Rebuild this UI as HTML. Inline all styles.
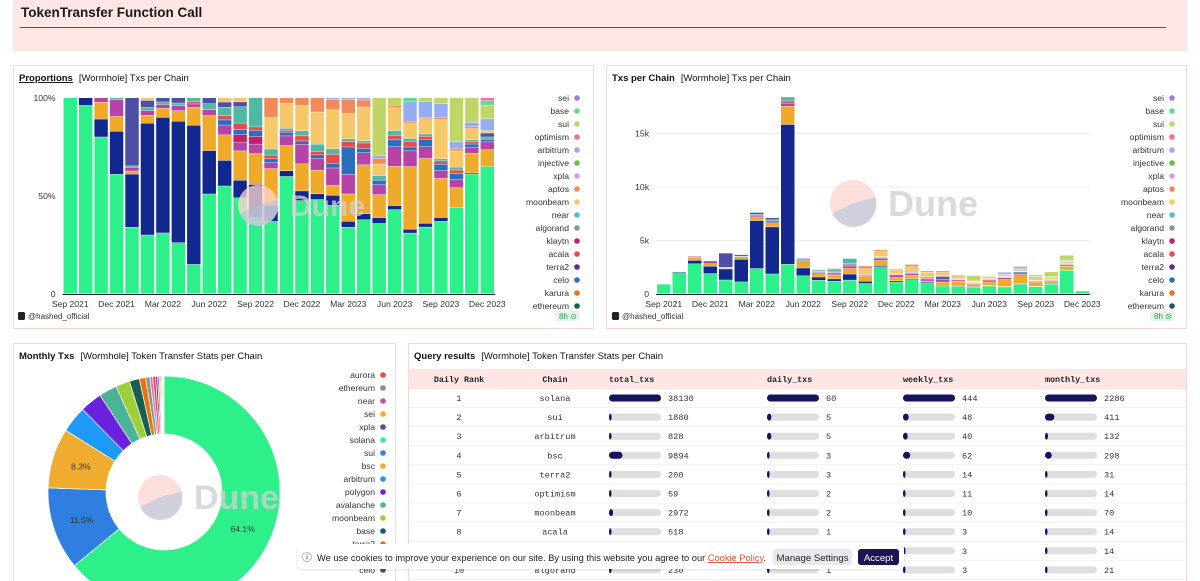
<!DOCTYPE html>
<html><head><meta charset="utf-8">
<style>
html,body{margin:0;padding:0;background:#fff;width:1200px;height:581px;overflow:hidden;font-family:"Liberation Sans",sans-serif}
svg{position:absolute;left:0;top:0}
.mono{font-family:"Liberation Mono",monospace}
</style></head>
<body>
<svg id="page" width="1200" height="581" viewBox="0 0 1200 581">
  <rect x="13" y="0" width="1174" height="51" fill="#fde6e3"/>
  <text x="21" y="17" font-size="13.5" font-weight="bold" fill="#1a1a1a">TokenTransfer Function Call</text>
  <line x1="20" y1="27.5" x2="1166" y2="27.5" stroke="#555" stroke-width="1"/>

  <rect x="13.5" y="65.5" width="580" height="263" fill="#fff" stroke="#f7d9d4"/>
  <rect x="606.5" y="65.5" width="580" height="263" fill="#fff" stroke="#f7d9d4"/>
  <rect x="13.5" y="343.5" width="382" height="240" fill="#fff" stroke="#f7d9d4"/>
  <rect x="408.5" y="343.5" width="778" height="240" fill="#fff" stroke="#f7d9d4"/>

  <text x="19" y="81" font-size="9.5" fill="#111"><tspan font-weight="bold" text-decoration="underline">Proportions</tspan><tspan dx="6">[Wormhole] Txs per Chain</tspan></text>
  <text x="612" y="81" font-size="9.5" fill="#111"><tspan font-weight="bold">Txs per Chain</tspan><tspan dx="6">[Wormhole] Txs per Chain</tspan></text>
  <text x="19" y="359" font-size="9.5" fill="#111"><tspan font-weight="bold">Monthly Txs</tspan><tspan dx="6">[Wormhole] Token Transfer Stats per Chain</tspan></text>
  <text x="414" y="359" font-size="9.5" fill="#111"><tspan font-weight="bold">Query results</tspan><tspan dx="6">[Wormhole] Token Transfer Stats per Chain</tspan></text>

  <g id="g-left"></g>
  <g id="g-right"></g>
  <g id="g-pie"></g>
  <g id="g-table"></g>
  <g id="g-cookie"></g>
</svg>
<script>
const months = ['Sep 2021','Oct 2021','Nov 2021','Dec 2021','Jan 2022','Feb 2022','Mar 2022','Apr 2022','May 2022','Jun 2022','Jul 2022','Aug 2022','Sep 2022','Oct 2022','Nov 2022','Dec 2022','Jan 2023','Feb 2023','Mar 2023','Apr 2023','May 2023','Jun 2023','Jul 2023','Aug 2023','Sep 2023','Oct 2023','Nov 2023','Dec 2023'];
const solana = [900,1980,2800,1890,1290,1110,2360,1850,2760,1680,1265,1175,1280,960,2460,1100,1320,970,730,680,610,730,635,885,665,900,2200,260];
const bsc = [0,80,320,680,1030,2110,4480,4400,13060,730,300,215,560,210,120,115,80,110,65,55,50,35,40,50,35,0,20,0];
const avalanche = [0,0,300,235,60,150,350,380,1700,590,300,360,520,490,530,320,330,110,300,450,200,340,655,860,360,210,360,34];
const polygon = [0,0,80,265,70,90,150,180,300,100,115,100,160,80,200,230,165,190,215,110,85,170,165,155,70,85,110,16];
const klaytn = [0,0,0,0,0,0,0,0,0,0,0,100,130,0,0,0,0,0,0,0,0,0,0,0,0,0,0,0];
const celo = [0,0,0,0,0,0,0,0,0,0,60,60,100,50,80,40,50,50,300,40,40,60,40,100,60,60,60,5];
const acala = [0,0,0,0,0,0,0,0,200,0,50,80,60,50,40,60,50,100,60,50,0,40,60,40,30,40,40,0];
const near = [0,0,0,30,30,60,100,100,380,100,100,200,490,80,40,60,100,60,30,20,40,40,30,30,20,30,40,5];
const xpla = [0,0,0,0,1320,130,160,190,0,100,60,60,0,0,0,0,0,0,0,0,0,0,0,0,0,0,0,8];
const moonbeam = [0,0,0,0,0,50,0,0,0,0,50,50,0,420,520,300,450,430,280,310,100,200,160,200,360,170,200,5];
const aptos = [0,0,0,0,0,0,0,0,0,0,0,0,0,260,120,90,200,110,150,65,50,20,20,20,20,25,40,0];
const arbitrum = [0,0,0,0,0,0,0,0,0,0,0,0,0,0,0,0,0,20,20,20,25,0,205,210,125,70,80,24];
const sui = [0,0,0,0,0,0,0,0,0,0,0,0,0,0,0,0,0,0,0,0,500,65,0,50,55,460,450,28];
const base = [0,0,0,0,0,0,0,0,0,0,0,0,0,0,0,0,0,0,0,0,0,0,40,0,0,0,0,9];
const optimism = [0,0,0,0,0,0,0,0,0,0,0,0,0,0,0,0,0,0,0,0,0,0,0,0,0,0,0,6];
const seriesNames = ['solana','bsc','avalanche','polygon','klaytn','celo','acala','near','xpla','moonbeam','aptos','arbitrum','sui','base','optimism'];
const seriesColors = ['#2ef08a','#13288f','#f0aa2a','#b843a6','#c41f6e','#2b6ebe','#e44d4d','#4fb9a3','#4d4fa6','#f6c86a','#f28a5c','#94aef0','#bfd666','#5fdc93','#f06fa0'];
const seriesValues = [solana,bsc,avalanche,polygon,klaytn,celo,acala,near,xpla,moonbeam,aptos,arbitrum,sui,base,optimism];
const legendLabels = ['sei','base','sui','optimism','arbitrum','injective','xpla','aptos','moonbeam','near','algorand','klaytn','acala','terra2','celo','karura','ethereum'];
const legendColors = ['#9b7ee0','#5fdc93','#bfd666','#f06fa0','#94aef0','#6bbf4a','#d79af0','#f28a5c','#f6c86a','#4fc0c8','#8a9a8a','#c41f6e','#e44d4d','#5a2e8a','#2b6ebe','#e8730f','#1e5e4e'];
const propTicks = [0,0.5,1];
const propTickLabels = ['0','50%','100%'];
const absTicks = [0,5000,10000,15000];
const absTickLabels = ['0','5k','10k','15k'];

const pieLabels = ['solana','sui','bsc','arbitrum','polygon','avalanche','moonbeam','base','terra2','algorand','optimism','acala','celo','near','sei','xpla','ethereum','aurora','karura','injective'];
const pieValues = [2286,411,298,132,110,90,70,50,31,21,14,14,10,8,6,5,5,3,3,2];
const pieColors = ['#2ef08a','#2f7fe0','#f0ac2e','#1e9af5','#6a22e0','#4bb39a','#9ccf3a','#176050','#e8730f','#8a9a8a','#f06fa0','#e44d4d','#5a3c9a','#d04aa0','#f0ac2e','#4d4fa6','#8a8a8a','#e84a3a','#f0a060','#6bbf4a'];
const pieLegend = ['aurora','ethereum','near','sei','xpla','solana','sui','bsc','arbitrum','polygon','avalanche','moonbeam','base','terra2','optimism','celo'];
const pieLegendColors = ['#e84a3a','#8a8a8a','#d04aa0','#f0ac2e','#4d4fa6','#2ef08a','#2f7fe0','#f0ac2e','#1e9af5','#6a22e0','#4bb39a','#9ccf3a','#176050','#e8730f','#f06fa0','#5a3c9a'];

const ranks = [1,2,3,4,5,6,7,8,9,10];
const chains = ['solana','sui','arbitrum','bsc','terra2','optimism','moonbeam','acala','celo','algorand'];
const totalTxs = [38130,1880,828,9894,200,59,2972,518,140,230];
const dailyTxs = [60,5,5,3,3,2,2,1,1,1];
const weeklyTxs = [444,48,40,62,14,11,10,3,3,3];
const monthlyTxs = [2286,411,132,298,31,14,70,14,14,21];

const NS='http://www.w3.org/2000/svg';
function mk(parent,tag,attrs,text){const e=document.createElementNS(NS,tag);for(const k in attrs)e.setAttribute(k,attrs[k]);if(text!==undefined)e.textContent=text;parent.appendChild(e);return e;}

function watermark(g,cx,cy,r,fs){
  const w=mk(g,'g',{opacity:'0.9'});
  
  
  mk(w,'circle',{cx:cx,cy:cy,r:r,fill:'#fcd6cf',opacity:'0.85'});
  mk(w,'path',{d:`M${cx} ${cy} L${cx+r*0.97} ${cy-r*0.25} A${r} ${r} 0 0 1 ${cx-r*0.9} ${cy+r*0.45} Z`,fill:'#c9c9dc',opacity:'0.9'});
  mk(w,'text',{x:cx+r+12,y:cy+fs*0.36,'font-size':fs,'font-weight':'bold',fill:'#cfcfcf',opacity:'0.85'},'Dune');
}

function legend(g,x,y0,step,labels,colors,name){
  labels.forEach((l,i)=>{
    const t=mk(g,'text',{x:x-8,y:y0+i*step+3,'font-size':'8.6','text-anchor':'end',fill:'#333'},l);
    
    
    const c=mk(g,'circle',{cx:x,cy:y0+i*step,r:'2.8',fill:colors[i]});
    
    
  });
}

function footer(g,x,rx){
  const r=mk(g,'rect',{x:x,y:312,width:7,height:8,rx:1.5,fill:'#222'});
  
  
  const t=mk(g,'text',{x:x+10,y:319,'font-size':'8',fill:'#333'},'@hashed_official');
  
  
  const b=mk(g,'rect',{x:rx-10,y:311,width:24,height:10,rx:2,fill:'#e3f6e8'});
  
  
  const bt=mk(g,'text',{x:rx-6,y:319,'font-size':'8',fill:'#2aa34a'},'8h ⊙');
  
  
}

function barChart(gid,x0,x1,yBottom,yTop,mode){
  const g=document.getElementById(gid);
  const n=months.length, slot=(x1-x0)/n, bw=slot*0.87;
  const totals=months.map((m,i)=>seriesValues.reduce((s,a)=>s+a[i],0));
  function yScale(v){ return mode==='prop' ? yBottom - v*(yBottom-yTop) : yBottom - v/5000*53.5; }
  function xScale(i){ return x0 + i*slot + (slot-bw)/2; }
  const ticks = mode==='prop'?propTicks:absTicks, tl = mode==='prop'?propTickLabels:absTickLabels;
  ticks.forEach((t,k)=>{
    const y=yScale(t);
    if(mode!=='prop' && t>0){
      const gl=mk(g,'line',{x1:x0,x2:x1,y1:y,y2:y,stroke:'#eeeeee','stroke-width':1});
      
      
    }
    const lt=mk(g,'text',{x:x0-7,y:y+3,'font-size':'8.6','text-anchor':'end',fill:'#333'},tl[k]);
    
    
  });
  months.forEach((m,i)=>{
    let acc=0;
    seriesValues.forEach((arr,s)=>{
      const v=arr[i]; if(!v) return;
      const val = mode==='prop' ? v/totals[i] : v;
      const yA=yScale(acc), yB=yScale(acc+val);
      acc+=val;
      const r=mk(g,'rect',{x:xScale(i),y:yB,width:bw,height:Math.max(0,yA-yB-0.4),fill:seriesColors[s]});
      
      
    });
  });
  const ax=mk(g,'line',{x1:x0,x2:x1,y1:yBottom+0.5,y2:yBottom+0.5,stroke:'#222','stroke-width':1});
  
  
  months.forEach((m,i)=>{
    if(i%3!==0) return;
    const t=mk(g,'text',{x:xScale(i)+bw/2,y:yBottom+13,'font-size':'8.6','text-anchor':'middle',fill:'#333'},m);
    
    
  });
}

barChart('g-left',62.5,495,294,98,'prop');
watermark(document.getElementById('g-left'),258,205,20,30);
legend(document.getElementById('g-left'),577,98,13,legendLabels,legendColors,'proportions-legend');
footer(document.getElementById('g-left'),18,565);

barChart('g-right',656,1090,294,98,'abs');
watermark(document.getElementById('g-right'),853,203,23,36);
legend(document.getElementById('g-right'),1172,98,13,legendLabels,legendColors,'txs-legend');
footer(document.getElementById('g-right'),612,1160);

(function(){
  const g=document.getElementById('g-pie');
  const cx=164, cy=492, R=116, r0=58;
  const tot=pieValues.reduce((a,b)=>a+b,0);
  let a=0;
  pieValues.forEach((v,i)=>{
    const a1=a, a2=a+v/tot*2*Math.PI; a=a2;
    const p=(ang,rad)=>[cx+rad*Math.sin(ang), cy-rad*Math.cos(ang)];
    const [x1,y1]=p(a1,R),[x2,y2]=p(a2,R),[x3,y3]=p(a2,r0),[x4,y4]=p(a1,r0);
    const large=(a2-a1)>Math.PI?1:0;
    const path=mk(g,'path',{d:`M${x1} ${y1} A${R} ${R} 0 ${large} 1 ${x2} ${y2} L${x3} ${y3} A${r0} ${r0} 0 ${large} 0 ${x4} ${y4} Z`,fill:pieColors[i],stroke:'#fff','stroke-width':0.7});
    
    
    const frac=v/tot;
    if(frac>0.05){
      const mid=(a1+a2)/2, [lx,ly]=p(mid,(R+r0)/2);
      const t=mk(g,'text',{x:lx,y:ly+3,'font-size':'8.6','text-anchor':'middle',fill:'#333'},(frac*100).toFixed(1)+'%');
      
      
    }
  });
  watermark(g,160,497,22,34);
  legend(g,383,375,13,pieLegend,pieLegendColors,'monthly-legend');
})();

(function(){
  const g=document.getElementById('g-table');
  const hb=mk(g,'rect',{x:409,y:369,width:777,height:20,fill:'#fde6e3'});
  
  
  const heads=[['Daily Rank',459,'middle'],['Chain',555,'middle'],['total_txs',609,'start'],['daily_txs',767,'start'],['weekly_txs',903,'start'],['monthly_txs',1045,'start']];
  heads.forEach(h=>{
    const t=mk(g,'text',{x:h[1],y:382,'font-size':'8.4','text-anchor':h[2],fill:'#222','font-weight':'bold',class:'mono'},h[0]);
    
    
  });
  const cols=[[totalTxs,609],[dailyTxs,767],[weeklyTxs,903],[monthlyTxs,1045]];
  ranks.forEach((rk,i)=>{
    const cy=398+i*19.1;
    const sep=mk(g,'line',{x1:409,x2:1186,y1:cy+9.5,y2:cy+9.5,stroke:'#f1f1f1'});
    
    
    const t1=mk(g,'text',{x:459,y:cy+3,'font-size':'8.6','text-anchor':'middle',fill:'#333',class:'mono'},String(rk));
    
    
    const t2=mk(g,'text',{x:555,y:cy+3,'font-size':'8.6','text-anchor':'middle',fill:'#333',class:'mono'},chains[i]);
    
    
    cols.forEach(([arr,x])=>{
      const mx=Math.max(...arr), w=52;
      const tr=mk(g,'rect',{x:x,y:cy-3.5,width:w,height:7,rx:3.5,fill:'#dedede'});
      
      
      const fw=Math.max(2.5,arr[i]/mx*w);
      const fb=mk(g,'rect',{x:x,y:cy-3.5,width:fw,height:7,rx:3.5,fill:'#14135e'});
      
      
      const tv=mk(g,'text',{x:x+w+7,y:cy+3,'font-size':'8.6',fill:'#333',class:'mono'},String(arr[i]));
      
      
    });
  });
})();

(function(){
  const g=document.getElementById('g-cookie');
  const sh=mk(g,'rect',{x:296,y:545,width:610,height:26,rx:5,fill:'#000',opacity:'0.06'});
  
  
  const bg=mk(g,'rect',{x:297,y:544,width:607,height:25,rx:5,fill:'#fff'});
  
  
  const ic=mk(g,'text',{x:302,y:561,'font-size':'10',fill:'#333'},'ⓘ');
  
  
  const t=mk(g,'text',{x:317,y:561,'font-size':'9.6',fill:'#222',textLength:'449',lengthAdjust:'spacingAndGlyphs'},'We use cookies to improve your experience on our site. By using this website you agree to our ');
  
  
  const tl=mk(t,'tspan',{fill:'#e0533a','text-decoration':'underline'},'Cookie Policy');
  
  
  mk(t,'tspan',{},'.');
  const mb=mk(g,'rect',{x:773,y:549,width:79,height:16,rx:3,fill:'#e8e9ee'});
  
  
  const mt=mk(g,'text',{x:812.5,y:561,'font-size':'9.6','text-anchor':'middle',fill:'#222'},'Manage Settings');
  
  
  const ab=mk(g,'rect',{x:858,y:549,width:41,height:16,rx:3,fill:'#1c1454'});
  
  
  const at=mk(g,'text',{x:878.5,y:561,'font-size':'9.6','text-anchor':'middle',fill:'#fff'},'Accept');
  
  
})();
</script>
</body></html>
